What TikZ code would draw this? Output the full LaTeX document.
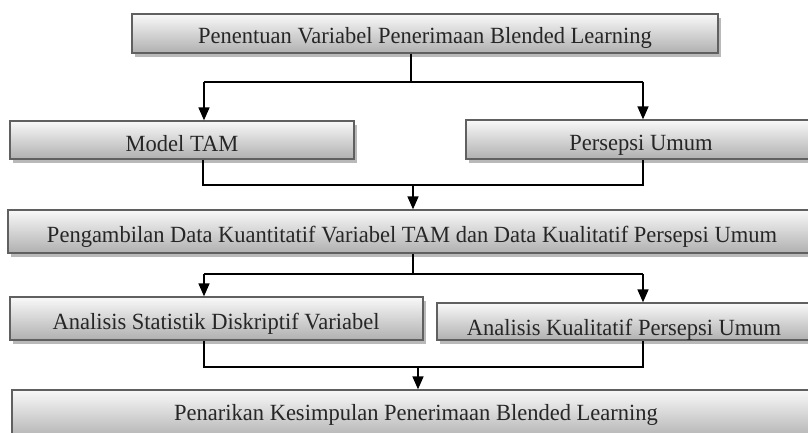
\documentclass[tikz,border=0pt]{standalone}
\usepackage{fontspec}
\setmainfont{Liberation Serif}[FakeStretch=0.97]
\usetikzlibrary{arrows.meta,shadows}
\begin{document}
\begin{tikzpicture}[x=1pt,y=-1pt,
  box/.style={draw=gray!75!black, line width=1.3pt, top color=gray!5, bottom color=gray!62,
    inner sep=0pt,
    drop shadow={shadow xshift=3pt, shadow yshift=-4pt, fill=gray!55, opacity=1}},
  lbl/.style={anchor=base, inner sep=0pt, text=black!85, font=\fontsize{23.2}{26}\selectfont},
  conn/.style={line width=1.5pt, black},
  arr/.style={conn, -{Triangle[width=11pt,length=13pt]}}]
\useasboundingbox (0,0) rectangle (808,433);
% boxes
\node[box, minimum width=586pt, minimum height=39pt] (b1) at (425,33.5) {};
\node[box, minimum width=344pt, minimum height=38pt] (b2) at (182,140) {};
\node[box, minimum width=354pt, minimum height=39pt] (b3) at (643,139.5) {};
\node[box, minimum width=812pt, minimum height=43pt] (b4) at (414,231.5) {};
\node[box, minimum width=413pt, minimum height=43pt] (b5) at (216.5,318.5) {};
\node[box, minimum width=383pt, minimum height=37pt] (b6) at (628.5,321.5) {};
\node[box, minimum width=808pt, minimum height=50pt] (b7) at (416,415) {};
% texts
\node[lbl] (t1) at (425,44) {Penentuan Variabel Penerimaan Blended Learning};
\node[lbl] (t2) at (182,151) {Model TAM};
\node[lbl] (t3) at (641,150) {Persepsi Umum};
\node[lbl] (t4) at (412,242) {Pengambilan Data Kuantitatif Variabel TAM dan Data Kualitatif Persepsi Umum};
\node[lbl] (t5) at (216,329) {Analisis Statistik Diskriptif Variabel};
\node[lbl] (t6) at (624,335) {Analisis Kualitatif Persepsi Umum};
\node[lbl] (t7) at (416,420) {Penarikan Kesimpulan Penerimaan Blended Learning};
% junctions
\coordinate (j1) at (411,82);
\coordinate (j1l) at (204,82);
\coordinate (j1r) at (643,82);
\coordinate (j2) at (413,185);
\coordinate (j2l) at (203,185);
\coordinate (j2r) at (643,185);
\coordinate (j3) at (413,274);
\coordinate (j3l) at (204,274);
\coordinate (j3r) at (643,274);
\coordinate (j4) at (418,367);
\coordinate (j4l) at (204,367);
\coordinate (j4r) at (643,367);
% level 1
\draw[conn] (j1 |- b1.south) -- (j1);
\draw[conn] (j1l) -- (j1r);
\draw[arr] (j1l) -- (j1l |- b2.north);
\draw[arr] (j1r) -- (j1r |- b3.north);
% level 2
\draw[conn] (j2l |- b2.south) -- (j2l) -- (j2r) -- (j2r |- b3.south);
\draw[arr] (j2) -- (j2 |- b4.north);
% level 3
\draw[conn] (j3 |- b4.south) -- (j3);
\draw[conn] (j3l) -- (j3r);
\draw[arr] (j3l) -- (j3l |- b5.north);
\draw[arr] (j3r) -- (j3r |- b6.north);
% level 4
\draw[conn] (j4l |- b5.south) -- (j4l) -- (j4r) -- (j4r |- b6.south);
\draw[arr] (j4) -- (j4 |- b7.north);
\end{tikzpicture}
\end{document}
